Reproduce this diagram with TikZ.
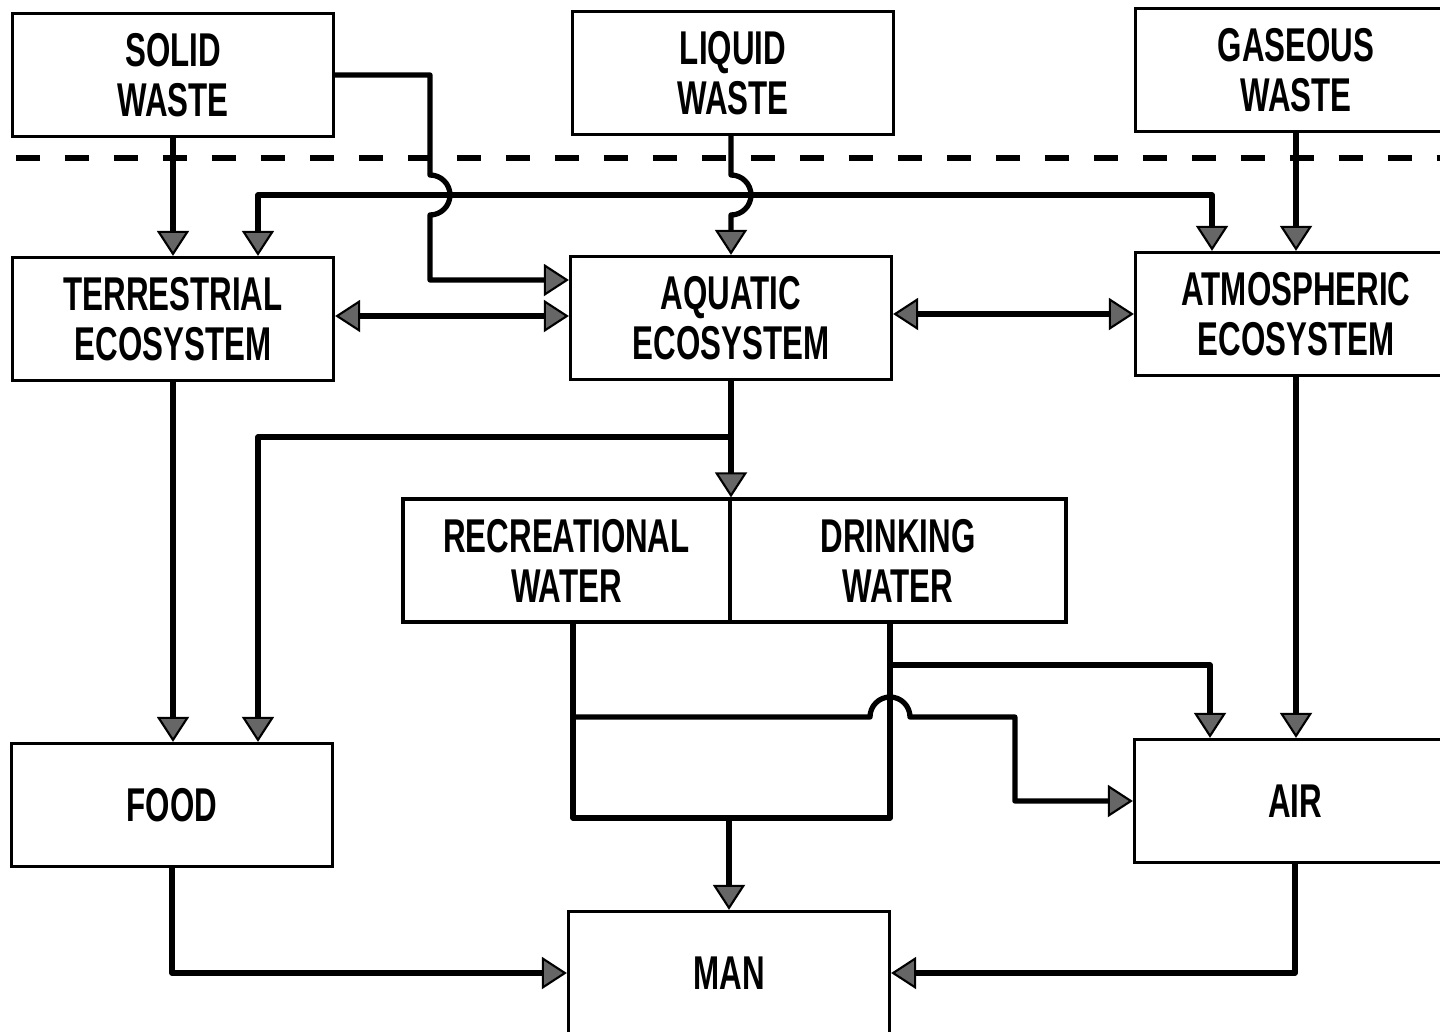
\documentclass[tikz,border=0pt]{standalone}
\usepackage{fontspec}
\newfontfamily\boxfont{Liberation Sans}[FakeStretch=0.66]
\usetikzlibrary{arrows.meta}

\begin{document}
\begin{tikzpicture}[
    x=0.02cm, y=-0.02cm,
    >={Triangle[length=5mm,width=6.4mm,line width=1.2pt,fill=black!60]},
    box/.style={draw, line width=1.9pt, minimum width=6.42cm, minimum height=2.46cm,
                align=center, inner sep=0pt,
                font=\boxfont\bfseries\fontsize{27}{28.5}\selectfont},
    link/.style={line width=3pt, line join=round},
    flow/.style={link, ->},
    both/.style={link, <->},
  ]
    \clip (0,0) rectangle (1440,1031);

    \node[box] (solid)   at (173,75)  {SOLID\\WASTE};
    \node[box] (liquid)  at (733,73)  {LIQUID\\WASTE};
    \node[box] (gaseous) at (1296,70) {GASEOUS\\WASTE};

    \node[box] (terr) at (173,319)  {TERRESTRIAL\\ECOSYSTEM};
    \node[box] (aqua) at (731,318)  {AQUATIC\\ECOSYSTEM};
    \node[box] (atmo) at (1296,314) {ATMOSPHERIC\\ECOSYSTEM};

    \node[box, minimum width=6.54cm] (rec)   at (566.5,560.5) {RECREATIONAL\\WATER};
    \node[box, minimum width=6.72cm] (drink) at (898,560.5)   {DRINKING\\WATER};

    \node[box] (food) at (172,805)  {FOOD};
    \node[box] (air)  at (1295,801) {AIR};
    \node[box] (man)  at (729,973)  {MAN};

    \draw[line width=3pt, dash pattern=on 0.48cm off 0.5cm] (16,158) -- (1440,158);

    \coordinate (bus) at (730,195);
    \coordinate (rw) at ([xshift=0.13cm]rec.south);
    \coordinate (dw) at ([xshift=-0.16cm]drink.south);

    \draw[flow] (solid.south) -- (terr.north);
    \draw[flow] (solid.east) -| (430,175) arc[start angle=90, end angle=-90, radius=0.4cm]
      |- ([yshift=0.76cm]aqua.west);
    \draw[flow] (liquid.south -| aqua.north) -- (731,175)
      arc[start angle=90, end angle=-90, radius=0.4cm] -- (aqua.north);
    \draw[flow] (gaseous.south) -- (atmo.north);
    \draw[both] ([xshift=1.7cm]terr.north) |- (bus) -| ([xshift=-1.68cm]atmo.north);

    \draw[both] (terr.east |- 0,316) -- (aqua.west |- 0,316);
    \draw[both] (aqua.east |- 0,314) -- (atmo.west |- 0,314);

    \draw[flow] (terr.south) -- (terr.south |- food.north);
    \draw[flow] (aqua.south) -- (aqua.south |- rec.north);
    \draw[flow] (aqua.south |- 0,437) -| ([xshift=1.72cm]food.north);
    \draw[flow] (atmo.south) -- (atmo.south |- air.north);

    \draw[link] (rw) -- (rw |- 0,818) -| (dw);
    \draw[flow] (man.north |- 0,818) -- (man.north);
    \draw[flow] (dw |- 0,665) -| ([xshift=-1.7cm]air.north);
    \draw[flow] (rw |- 0,717) -- (870,717) arc[start angle=180, end angle=0, radius=0.4cm]
      -| ([xshift=-2.36cm]air.west) -- (air.west);

    \draw[flow] (food.south) |- (man.west);
    \draw[flow] (air.south) |- (man.east);
  \end{tikzpicture}
\end{document}
